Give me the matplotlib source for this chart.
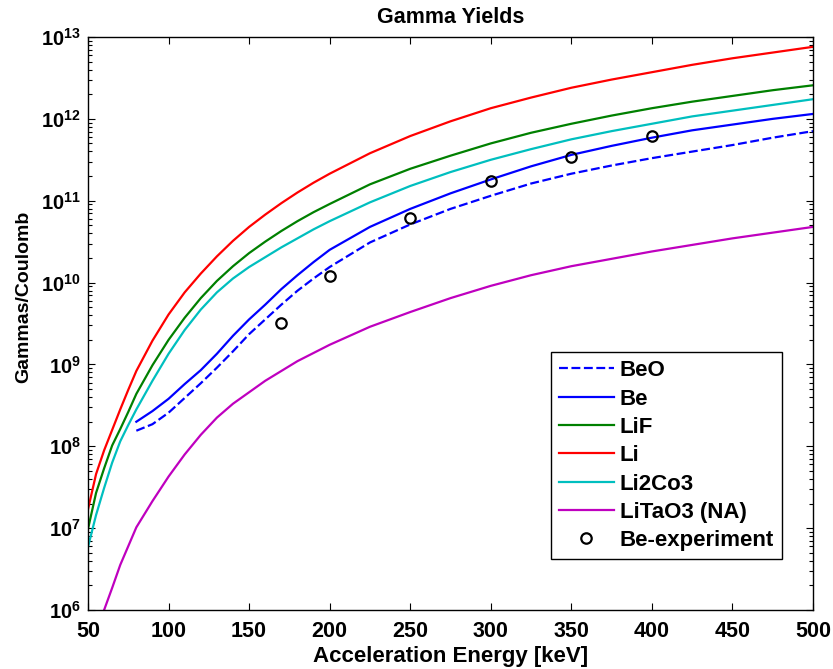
import matplotlib
matplotlib.use("Agg")
from matplotlib import pyplot as plt
from matplotlib.ticker import LogLocator, FixedLocator, NullFormatter
import numpy as np

plt.rcParams["font.family"] = ["Liberation Sans", "DejaVu Sans"]
plt.rcParams["font.weight"] = "bold"
plt.rcParams["mathtext.fontset"] = "custom"
plt.rcParams["mathtext.rm"] = "Liberation Sans:bold"
plt.rcParams["mathtext.bf"] = "Liberation Sans:bold"
plt.rcParams["mathtext.it"] = "Liberation Sans:bold"

# Energies in keV; yields stored as log10(gammas per coulomb)
energy_li = [50, 55, 60, 65, 70, 75, 80, 90, 100, 110, 120, 130, 140, 150, 160,
             170, 180, 190, 200, 225, 250, 275, 300, 325, 350, 375, 400, 425,
             450, 475, 500]
li_log = [7.23, 7.66, 7.95, 8.20, 8.45, 8.69, 8.92, 9.29, 9.61, 9.88, 10.11,
          10.32, 10.51, 10.68, 10.83, 10.97, 11.10, 11.22, 11.33, 11.58, 11.79,
          11.97, 12.13, 12.26, 12.38, 12.48, 12.57, 12.66, 12.74, 12.81, 12.88]
lif_log = [6.99, 7.43, 7.73, 8.01, 8.21, 8.42, 8.64, 8.99, 9.30, 9.57, 9.81,
           10.02, 10.20, 10.36, 10.50, 10.63, 10.75, 10.86, 10.96, 11.20, 11.39,
           11.55, 11.70, 11.83, 11.94, 12.04, 12.13, 12.21, 12.28, 12.35, 12.41]
li2co3_log = [6.77, 7.16, 7.49, 7.80, 8.06, 8.26, 8.45, 8.80, 9.13, 9.42, 9.67,
              9.88, 10.05, 10.19, 10.31, 10.43, 10.54, 10.65, 10.75, 10.98,
              11.18, 11.35, 11.50, 11.63, 11.75, 11.85, 11.94, 12.03, 12.10,
              12.17, 12.24]

energy_be = [80, 90, 100, 110, 120, 130, 140, 150, 160, 170, 180, 190, 200, 225,
             250, 275, 300, 325, 350, 375, 400, 425, 450, 475, 500]
be_log = [8.30, 8.43, 8.58, 8.76, 8.93, 9.13, 9.35, 9.55, 9.73, 9.92, 10.09,
          10.25, 10.40, 10.68, 10.90, 11.09, 11.26, 11.42, 11.56, 11.67, 11.77,
          11.86, 11.93, 12.00, 12.06]
beo_log = [8.19, 8.27, 8.41, 8.59, 8.77, 8.96, 9.16, 9.37, 9.55, 9.73, 9.90,
           10.05, 10.19, 10.49, 10.71, 10.90, 11.06, 11.21, 11.33, 11.43, 11.52,
           11.60, 11.68, 11.77, 11.85]

energy_lt = [60, 65, 70, 80, 90, 100, 110, 120, 130, 140, 150, 160, 170, 180,
             190, 200, 225, 250, 275, 300, 325, 350, 375, 400, 425, 450, 475, 500]
litao3_log = [6.00, 6.27, 6.55, 7.01, 7.33, 7.63, 7.90, 8.14, 8.35, 8.52, 8.66,
              8.80, 8.92, 9.04, 9.14, 9.24, 9.46, 9.64, 9.81, 9.96, 10.09, 10.20,
              10.29, 10.38, 10.46, 10.54, 10.61, 10.68]

energy_exp = [170, 200, 250, 300, 350, 400]
be_exp = [3.2e9, 1.2e10, 6.1e10, 1.75e11, 3.4e11, 6.2e11]

x_ticks = [50, 100, 150, 200, 250, 300, 350, 400, 450, 500]
y_exponents = list(range(6, 14))

fig = plt.figure(figsize=(8.33, 6.69), dpi=100)
ax = fig.add_axes([88 / 833, 1 - 610 / 669, 725 / 833, 573 / 669])

lw = 1.6
ax.semilogy(energy_be, 10.0 ** np.array(beo_log), color="b", lw=lw,
            ls="--", dashes=(4, 1.6), label="BeO")
ax.semilogy(energy_be, 10.0 ** np.array(be_log), color="b", lw=lw, label="Be")
ax.semilogy(energy_li, 10.0 ** np.array(lif_log), color=(0, 0.5, 0), lw=lw,
            label="LiF")
ax.semilogy(energy_li, 10.0 ** np.array(li_log), color="r", lw=lw, label="Li")
ax.semilogy(energy_li, 10.0 ** np.array(li2co3_log), color=(0, 0.75, 0.75),
            lw=lw, label="Li2Co3")
ax.semilogy(energy_lt, 10.0 ** np.array(litao3_log), color=(0.75, 0, 0.75),
            lw=lw, label="LiTaO3 (NA)")
ax.semilogy(energy_exp, be_exp, ls="none", marker="o", ms=7.5, mew=1.6,
            mfc="none", mec="k", label="Be-experiment")

ax.set_xlim(50, 500)
ax.set_ylim(1e6, 1e13)

ax.xaxis.set_major_locator(FixedLocator(x_ticks))
ax.set_xticklabels([str(v) for v in x_ticks])
ax.yaxis.set_major_locator(FixedLocator([10.0 ** e for e in y_exponents]))
ax.set_yticklabels([r"$10^{%d}$" % e for e in y_exponents])
ax.yaxis.set_minor_locator(LogLocator(base=10, subs=np.arange(2, 10), numticks=20))
ax.yaxis.set_minor_formatter(NullFormatter())

ax.tick_params(which="both", direction="in", top=True, right=True, width=0.8)
ax.tick_params(which="major", length=5)
ax.tick_params(which="minor", length=3)
ax.tick_params(axis="x", labelsize=15.5, pad=8)
ax.tick_params(axis="y", labelsize=14.5, pad=5)
for spine in ax.spines.values():
    spine.set_linewidth(1.0)

ax.set_title("Gamma Yields", fontsize=15.5, fontweight="bold", pad=10)
ax.set_xlabel("Acceleration Energy [keV]", fontsize=16, fontweight="bold",
              labelpad=3)
ax.set_ylabel("Gammas/Coulomb", fontsize=14, fontweight="bold")
ax.yaxis.set_label_coords(-0.077, 0.546)

leg = ax.legend(loc="lower right", bbox_to_anchor=(0.957, 0.089),
                borderaxespad=0, fancybox=False, framealpha=1,
                edgecolor="k", fontsize=16, handlelength=2.5,
                handletextpad=0.25, labelspacing=0.33, borderpad=0.35)
leg.get_frame().set_linewidth(1.0)

fig.savefig("out.png", dpi=100, facecolor="white")
